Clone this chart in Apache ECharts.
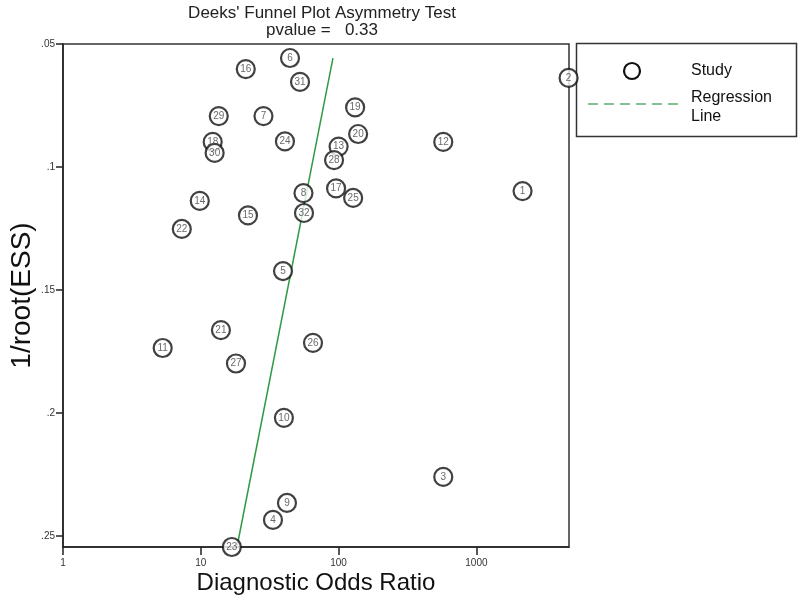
<!DOCTYPE html>
<html>
<head>
<meta charset="utf-8">
<script src="https://cdn.jsdelivr.net/npm/echarts@6/dist/echarts.min.js"></script>
<style>html,body{margin:0;padding:0;background:#fff}#c{width:800px;height:601px}</style>
</head>
<body>
<div id="c"></div>
<script>
// Study labels, diagnostic odds ratios (x) and 1/root(ESS) (y)
const studyLabels = ['1','2','3','4','5','6','7','8','9','10','11','12','13','14','15','16','17','18','19','20','21','22','23','24','25','26','27','28','29','30','31','32'];
const dorValues   = [2163,4668,575,33.4,39.5,44.4,28.5,55.6,42.2,40.1,5.29,575,100,9.83,22.0,21.2,95.9,12.2,131.8,138.6,14.0,7.28,16.8,40.8,127.5,65.2,18.0,92.7,13.5,12.6,52.5,56.1];
const invRootEss  = [0.1098,0.0638,0.226,0.2435,0.1423,0.0557,0.0793,0.1106,0.2366,0.202,0.1736,0.0898,0.0917,0.1138,0.1197,0.0602,0.1087,0.0898,0.0758,0.0866,0.1663,0.1252,0.2545,0.0896,0.1126,0.1715,0.1799,0.0972,0.0793,0.0943,0.0654,0.1187];
// Regression line end points
const regX = [18.3, 91];
const regY = [0.2545, 0.0557];
// Tick values
const xTicks = [1, 10, 100, 1000];
const yTicks = [0.05, 0.1, 0.15, 0.2, 0.25];

const chart = echarts.init(document.getElementById('c'), null, {renderer: 'canvas'});
const FONT = 'Liberation Sans, Arial, sans-serif';
const scatterData = dorValues.map((v, i) => ({value: [v, invRootEss[i]], name: studyLabels[i]}));
const lineData = regX.map((v, i) => [v, regY[i]]);

chart.setOption({
  animation: false,
  backgroundColor: '#fff',
  title: {
    text: "Deeks' Funnel Plot Asymmetry Test\npvalue =   0.33",
    left: 317, top: 0, textAlign: 'center',
    textStyle: {fontFamily: FONT, fontSize: 17, fontWeight: 'normal', color: '#222', lineHeight: 17}
  },
  grid: {left: 63, top: 44, right: 231, bottom: 54, show: true, borderColor: '#333', borderWidth: 1.5, backgroundColor: '#fff',
    containLabel: false, outerBoundsMode: 'none'},
  xAxis: {
    type: 'log', logBase: 10, min: 1, max: 4700,
    name: 'Diagnostic Odds Ratio', nameLocation: 'middle', nameGap: 24, nameMoveOverlap: false,
    nameTextStyle: {fontFamily: FONT, fontSize: 24, color: '#111', verticalAlign: 'top'},
    axisLine: {show: true, lineStyle: {color: '#222', width: 1.5}},
    axisTick: {show: true, customValues: xTicks, length: 8, lineStyle: {color: '#222', width: 1.5}},
    axisLabel: {customValues: xTicks, fontFamily: FONT, fontSize: 10, color: '#333', margin: 11, formatter: v => String(v)},
    splitLine: {show: false}, minorTick: {show: false}
  },
  yAxis: {
    type: 'value', inverse: true, min: 0.05, max: 0.2545,
    name: '1/root(ESS)', nameLocation: 'middle', nameGap: 27, nameRotate: 90, nameMoveOverlap: false,
    nameTextStyle: {fontFamily: FONT, fontSize: 28, color: '#111', verticalAlign: 'bottom'},
    axisLine: {show: true, lineStyle: {color: '#222', width: 1.5}},
    axisTick: {show: true, customValues: yTicks, length: 7, lineStyle: {color: '#222', width: 1.5}},
    axisLabel: {customValues: yTicks, fontFamily: FONT, fontSize: 10, color: '#333', margin: 8,
      formatter: v => String(+v.toFixed(4)).replace(/^0/, '')},
    splitLine: {show: false}
  },
  series: [
    {
      type: 'line', data: lineData, symbol: 'none', silent: true, clip: false,
      lineStyle: {color: '#2f9a44', width: 1.5}, z: 1
    },
    {
      type: 'scatter', data: scatterData, symbol: 'circle', symbolSize: 18, clip: false, z: 3,
      itemStyle: {color: '#fff', borderColor: '#111', borderWidth: 2.2},
      label: {show: true, position: 'inside', formatter: p => p.name, fontFamily: FONT, fontSize: 10, color: '#444'}
    }
  ],
  graphic: [
    {type: 'rect', shape: {x: 576.5, y: 43.5, width: 220, height: 93}, style: {fill: '#fff', stroke: '#333', lineWidth: 1.5}},
    {type: 'circle', shape: {cx: 632, cy: 71, r: 8}, style: {fill: '#fff', stroke: '#111', lineWidth: 2.2}},
    {type: 'text', x: 691, y: 71, style: {text: 'Study', fontFamily: FONT, fontSize: 16, fill: '#111', verticalAlign: 'middle'}},
    {type: 'line', shape: {x1: 588, y1: 104, x2: 678, y2: 104}, style: {stroke: '#5aae6a', lineWidth: 1.5, lineDash: [10, 6]}},
    {type: 'text', x: 691, y: 107, style: {text: 'Regression\nLine', fontFamily: FONT, fontSize: 16, lineHeight: 19, fill: '#111', verticalAlign: 'middle'}}
  ]
});
</script>
</body>
</html>
